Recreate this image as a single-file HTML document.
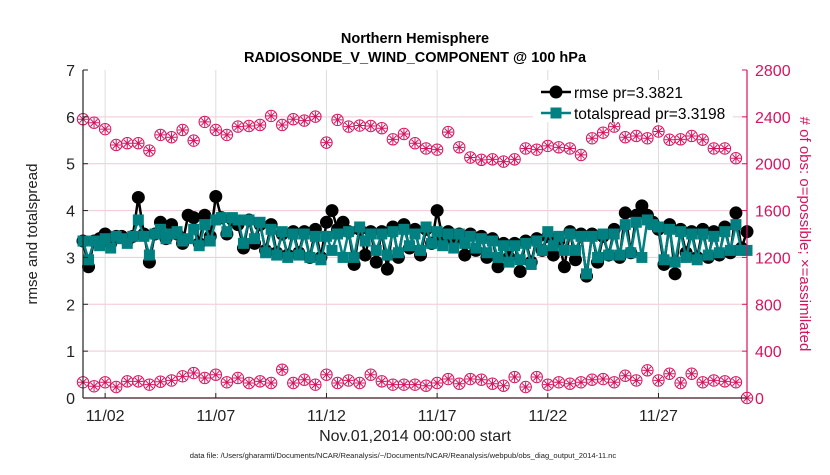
<!DOCTYPE html>
<html><head><meta charset="utf-8"><style>
body{margin:0;background:#fff;}
svg text{font-family:"Liberation Sans",Arial,sans-serif;}
</style></head><body>
<svg id="chart" width="830" height="470" xmlns="http://www.w3.org/2000/svg">
<rect width="830" height="470" fill="#fff"/>
<g id="grid"></g>
<g id="series"></g>
<g id="axes"></g>
<text x="415" y="43" text-anchor="middle" font-size="14.5" font-weight="bold">Northern Hemisphere</text>
<text x="415" y="62" text-anchor="middle" font-size="14.5" font-weight="bold">RADIOSONDE_V_WIND_COMPONENT @ 100 hPa</text>
<text x="415" y="441" text-anchor="middle" font-size="16" fill="#222">Nov.01,2014 00:00:00 start</text>
<text transform="translate(37,234) rotate(-90)" text-anchor="middle" font-size="15" fill="#222">rmse and totalspread</text>
<text transform="translate(800,234) rotate(90)" text-anchor="middle" font-size="15" fill="#d6135f"># of obs: o=possible; ×=assimilated</text>
<text x="403" y="458" text-anchor="middle" font-size="7.6" fill="#222">data file: /Users/gharamti/Documents/NCAR/Reanalysis/~/Documents/NCAR/Reanalysis/webpub/obs_diag_output_2014-11.nc</text>
<g id="legend">
<rect x="533" y="80" width="200" height="42" fill="#fff"/>
<line x1="541" y1="92" x2="571" y2="92" stroke="#000" stroke-width="2.5"/>
<circle cx="556" cy="92" r="6.5" fill="#000"/>
<text x="574" y="98" font-size="15.5">rmse pr=3.3821</text>
<line x1="541" y1="113" x2="571" y2="113" stroke="#008080" stroke-width="2.5"/>
<rect x="550.5" y="107.5" width="11" height="11" fill="#008080"/>
<text x="574" y="119" font-size="15.5">totalspread pr=3.3198</text>
</g>
</svg>
<script>
// 6-hourly values, 11/01 00Z .. 12/01 00Z
const rmse = [3.35,2.8,3.35,3.4, 3.5,3.3,3.45,3.45, 3.35,3.45,4.28,3.5, 2.9,3.5,3.75,3.4, 3.7,3.5,3.3,3.9,
 3.85,3.3,3.9,3.45, 4.3,3.85,3.5,3.8, 3.7,3.2,3.8,3.3, 3.7,3.15,3.7,3.1, 3.5,3.05,3.55,3.1,
 3.55,3.0,3.6,3.0, 3.75,4.0,3.6,3.75, 3.55,2.85,3.6,3.05, 3.55,2.9,3.55,2.75, 3.65,3.0,3.7,3.2,
 3.6,3.05,3.6,3.3, 4.0,3.4,3.55,3.35, 3.5,3.05,3.5,3.15, 3.45,3.0,3.4,2.8, 3.3,3.0,3.3,2.7,
 3.35,2.9,3.4,3.15, 3.45,3.05,3.35,2.8, 3.55,2.95,3.5,2.6, 3.5,2.9,3.45,3.05, 3.6,3.0,3.95,3.1,
 3.9,4.1,3.9,3.75, 3.6,2.85,3.7,2.65, 3.6,3.1,3.55,3.0, 3.6,3.0,3.55,3.05, 3.65,3.1,3.95,3.2, 3.55];
const spread = [3.35,2.95,3.35,3.25, 3.4,3.2,3.45,3.4, 3.3,3.45,3.8,3.45, 3.05,3.5,3.6,3.4, 3.5,3.55,3.35,3.4,
 3.6,3.25,3.7,3.35, 3.8,3.85,3.55,3.85, 3.8,3.3,3.8,3.4, 3.75,3.1,3.6,3.05, 3.55,3.0,3.5,3.05,
 3.5,3.0,3.45,2.95, 3.45,3.15,3.5,3.0, 3.55,3.0,3.65,3.35, 3.5,3.15,3.5,3.05, 3.55,3.1,3.6,3.25,
 3.5,3.15,3.65,3.3, 3.55,3.25,3.5,3.2, 3.5,3.3,3.45,3.2, 3.4,3.1,3.35,3.0, 3.25,2.9,3.25,2.95,
 3.3,2.85,3.35,3.15, 3.55,3.25,3.45,3.15, 3.5,3.15,3.45,2.65, 3.45,3.0,3.5,3.05, 3.5,3.05,3.7,3.1,
 3.75,3.0,3.8,3.7, 3.65,2.95,3.6,2.9, 3.55,3.0,3.5,2.95, 3.5,3.05,3.45,3.1, 3.55,3.15,3.7,3.15, 3.15];
// 12-hourly obs counts
const possible = [2380,2350,2295,2160,2175,2175,2112,2246,2226,2288,2197,2357,2288,2246,2317,2322,2331,2408,2331,2380,
 2368,2402,2180,2374,2317,2326,2322,2303,2208,2254, 2175,2130,2120,2270,2140,2053,2033,2037,2018,2037,
 2130,2120,2152,2140,2130,2075,2217,2265,2317,2226,2237,2217,2275,2205,2208,2237,2205,2130,2130,2047, null];
const assimilated = [134,100,134,94,142,142,114,139,150,185,213,171,199,134,171,128,142,128,242,128,
 156,114,199,128,150,128,199,142,114,114, 114,105,128,162,122,162,156,122,105,179,
 94,179,114,134,122,134,156,162,134,190,150,236,150,207,128,207,134,150,142,134, 0];
const xTicks = ["11/02","11/07","11/12","11/17","11/22","11/27"];
const xTickDays = [1,6,11,16,21,26];
const yTicksL = [0,1,2,3,4,5,6,7];
const yTicksR = [0,400,800,1200,1600,2000,2400,2800];

const X0=83,X1=747,Y0=398,Y1=70;
const xs = d => X0 + d/30*(X1-X0);
const yL = v => Y0 - v/7*(Y0-Y1);
const yR = v => Y0 - v/2800*(Y0-Y1);
const NS="http://www.w3.org/2000/svg";
function mk(tag,attrs,parent){const e=document.createElementNS(NS,tag);for(const k in attrs)e.setAttribute(k,attrs[k]);parent.appendChild(e);return e;}
const grid=document.getElementById('grid'), ser=document.getElementById('series'), ax=document.getElementById('axes');
const PINK="#d6135f";

yTicksL.forEach((v,i)=>{ if(v>0&&v<7){const l=mk('line',{x1:X0,x2:X1,y1:yL(v),y2:yL(v),stroke:"#f3c6d6","stroke-width":1},grid);

}
 const t=mk('text',{x:X0-8,y:yL(v)+6,"text-anchor":"end","font-size":16,fill:"#222"},ax); t.textContent=v;
 
 
 mk('line',{x1:X0,x2:X0+5,y1:yL(v),y2:yL(v),stroke:"#222"},ax);
});
yTicksR.forEach(v=>{const t=mk('text',{x:X1+8,y:yR(v)+6,"font-size":16,fill:PINK},ax); t.textContent=v;
 
 
 mk('line',{x1:X1-5,x2:X1,y1:yR(v),y2:yR(v),stroke:PINK},ax);
});
xTickDays.forEach((d,i)=>{const l=mk('line',{x1:xs(d),x2:xs(d),y1:Y1,y2:Y0,stroke:"#ddd","stroke-width":1},grid);
 
 
 mk('line',{x1:xs(d),x2:xs(d),y1:Y0,y2:Y0-5,stroke:"#222"},ax);
 const t=mk('text',{x:xs(d),y:421,"text-anchor":"middle","font-size":16,fill:"#222"},ax); t.textContent=xTicks[i];
 
 
});
mk('line',{x1:X0,x2:X0,y1:Y1,y2:Y0,stroke:"#222","stroke-width":1.2},ax);
mk('line',{x1:X0,x2:X1,y1:Y0,y2:Y0,stroke:"#3a1a22","stroke-width":1.2},ax);
mk('line',{x1:X1,x2:X1,y1:Y1,y2:Y0,stroke:PINK,"stroke-width":1.2},ax);

function obsMarkers(arr,name){arr.forEach((v,i)=>{ if(v===null)return;
 const cx=xs(i*0.5), cy=yR(v);
 const g=mk('g',{},ser);
 
 
 mk('circle',{cx,cy,r:5.7,fill:"none",stroke:PINK,"stroke-width":1},g);
 mk('path',{d:`M${cx-5} ${cy}H${cx+5}M${cx} ${cy-5}V${cy+5}M${cx-3.5} ${cy-3.5}L${cx+3.5} ${cy+3.5}M${cx-3.5} ${cy+3.5}L${cx+3.5} ${cy-3.5}`,stroke:PINK,"stroke-width":1},g);
});}
obsMarkers(possible,'possible-obs-marker');
obsMarkers(assimilated,'assimilated-obs-marker');

function line(arr,color,name){const d=arr.map((v,i)=>(i?'L':'M')+xs(i*0.25).toFixed(1)+' '+yL(v).toFixed(1)).join('');
 const p=mk('path',{d,fill:"none",stroke:color,"stroke-width":2.5,"stroke-linejoin":"round"},ser);
 
 }
line(rmse,"#000",'rmse-line');
rmse.forEach((v,i)=>{const c=mk('circle',{cx:xs(i*0.25),cy:yL(v),r:6.5,fill:"#000"},ser);
 
 });
line(spread,"#008080",'totalspread-line');
spread.forEach((v,i)=>{const r=mk('rect',{x:xs(i*0.25)-5.5,y:yL(v)-5.5,width:11,height:11,fill:"#008080"},ser);
 
 });
</script>
</body></html>
